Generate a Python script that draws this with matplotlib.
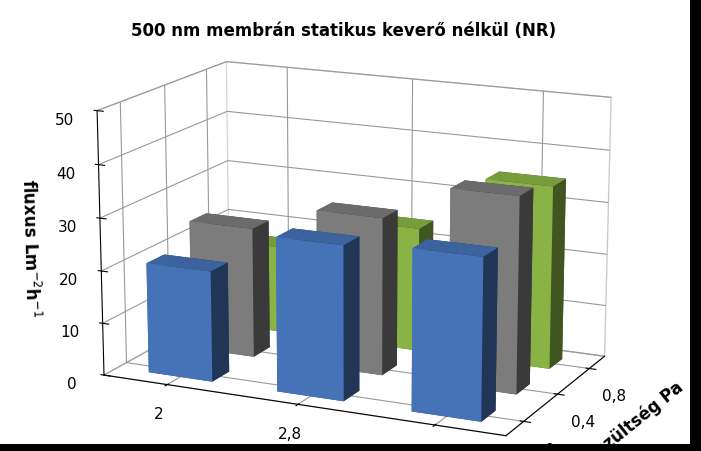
import matplotlib
matplotlib.use("Agg")
import matplotlib.pyplot as plt
import numpy as np

x_labels = ["2", "2,8", "3,6"]
y_labels = ["0", "0,4", "0,8"]
blue = [21, 29, 30]
gray = [25, 30, 37]
green = [17, 24, 35]
series = [blue, gray, green]
colors = ["#4f81d0", "#8c8c8c", "#9bcb4d"]

fig = plt.figure(figsize=(7.01, 4.52), dpi=100)
fig.patch.set_facecolor("black")
bg = fig.add_axes([0, 0.015, 0.985, 0.985])
bg.set_facecolor("white"); bg.set_xticks([]); bg.set_yticks([])
for s in bg.spines.values(): s.set_visible(False)

ax = fig.add_axes([0.0, -0.08, 1.0, 1.08], projection='3d')
ax.set_facecolor("none")
for j, vals in enumerate(series):
    for i, v in enumerate(vals):
        ax.bar3d(i - 0.25, j - 0.2, 0, 0.5, 0.4, v, color=colors[j], shade=True, edgecolor='none')
ax.set_xticks(range(3)); ax.set_xticklabels(x_labels, fontsize=11)
ax.set_yticks(range(3)); ax.set_yticklabels(y_labels, fontsize=11)
ax.set_zticks(range(0, 51, 10)); ax.set_zlim(0, 50)
ax.tick_params(axis='z', labelsize=11)
ax.set_xlim(-0.5, 2.5); ax.set_ylim(-0.5, 2.5)
ax.zaxis._axinfo['juggled'] = (1, 2, 0)
ax.set_zlabel("fluxus Lm$^{-2}$h$^{-1}$", fontsize=12, fontweight='bold')
ax.set_ylabel("nyírófeszültség Pa", fontsize=12, fontweight='bold')
for a in (ax.xaxis, ax.yaxis, ax.zaxis):
    a.pane.set_facecolor((1, 1, 1, 0)); a.pane.set_edgecolor("#999999")
    a._axinfo["grid"]["color"] = "#999999"
ax.view_init(elev=15, azim=-65)
ax.set_box_aspect((1.6, 1.0, 1.0), zoom=1.15)
fig.text(0.49, 0.92, "500 nm membrán statikus keverő nélkül (NR)", ha='center', fontsize=12, fontweight='bold')
fig.savefig("out.png", dpi=100, facecolor=fig.get_facecolor())
